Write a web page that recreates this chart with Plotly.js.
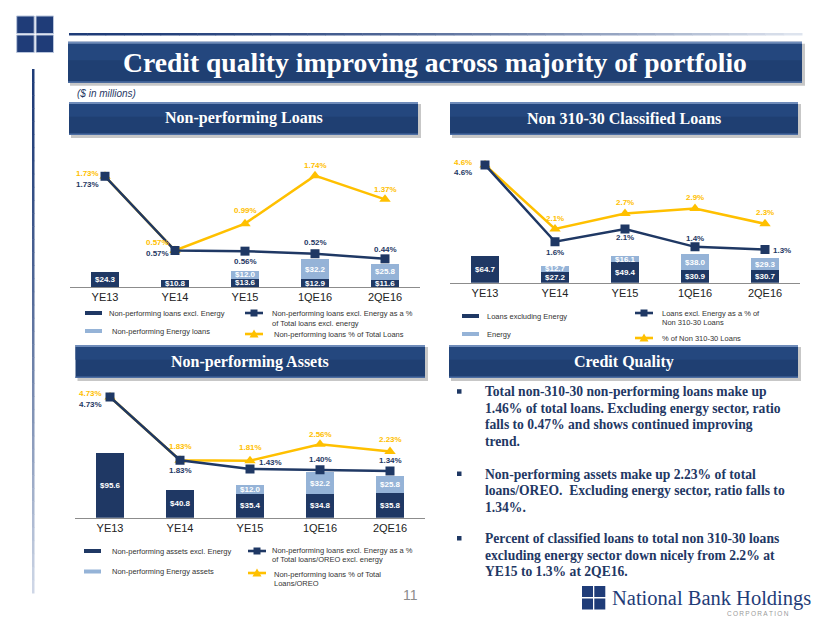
<!DOCTYPE html>
<html><head><meta charset="utf-8">
<script src="https://cdn.plot.ly/plotly-3.0.1.min.js"></script>
<style>html,body{margin:0;padding:0;background:#fff;}#c{width:830px;height:623px;}</style>
</head><body><div id="c"></div>
<script>
// ---------------- DATA ----------------
const categories = ['YE13','YE14','YE15','1QE16','2QE16'];

// Non-performing Loans ($ in millions, %)
const nplExEnergy    = [24.3, 10.8, 13.6, 12.9, 11.6];
const nplEnergy      = [null, null, 12.0, 32.2, 25.8];
const nplExEnergyPct = [1.73, 0.57, 0.56, 0.52, 0.44];
const nplTotalPct    = [1.73, 0.57, 0.99, 1.74, 1.37];

// Non 310-30 Classified Loans
const clsExEnergy    = [64.7, 27.2, 49.4, 30.9, 30.7];
const clsEnergy      = [null, 12.7, 16.1, 38.0, 29.3];
const clsExEnergyPct = [4.6, 1.6, 2.1, 1.4, 1.3];
const clsTotalPct    = [4.6, 2.1, 2.7, 2.9, 2.3];

// Non-performing Assets
const npaExEnergy    = [95.6, 40.8, 35.4, 34.8, 35.8];
const npaEnergy      = [null, null, 12.0, 32.2, 25.8];
const npaExEnergyPct = [4.73, 1.83, 1.43, 1.40, 1.34];
const npaTotalPct    = [4.73, 1.83, 1.81, 2.56, 2.23];

// ---------------- HELPERS ----------------
const W = 830, H = 623;
const X = v => v / W, Y = v => 1 - v / H;
const NAVY = '#1f3864', LIGHT = '#95b3d7', GOLD = '#ffc000', BOXC = '#1f3f72';
const SANS = 'Liberation Sans, Arial, sans-serif';
const SERIF = 'Liberation Serif, Times New Roman, serif';

const traces = [], annotations = [], shapes = [];

function rect(x0, y0, x1, y1, fill, lineColor, lw) {
  shapes.push({type:'rect', xref:'paper', yref:'paper', x0:X(x0), x1:X(x1), y0:Y(y1), y1:Y(y0),
    fillcolor:fill, line:{color:lineColor || fill, width: lw === undefined ? 0 : lw}, layer:'below'});
}
function txt(x, y, text, size, color, o) {
  o = o || {};
  annotations.push({xref:'paper', yref:'paper', x:X(x), y:Y(y), text:text, showarrow:false,
    xanchor:o.xa || 'left', yanchor:'middle', align:o.align || 'left',
    font:{family:o.family || SANS, size:size, color:color}});
}
function lerp(a, b, t) {
  const pa = [parseInt(a.slice(1,3),16), parseInt(a.slice(3,5),16), parseInt(a.slice(5,7),16)];
  const pb = [parseInt(b.slice(1,3),16), parseInt(b.slice(3,5),16), parseInt(b.slice(5,7),16)];
  return 'rgb(' + pa.map((v,i)=>Math.round(v + (pb[i]-v)*t)).join(',') + ')';
}
function box(x0, y0, x1, y1) {
  rect(x0+2, y0+2, x1+3, y1+3, 'rgba(0,0,0,0.22)');
  rect(x0, y0, x1, y1, BOXC);
  rect(x0, y0+2, x1, y0 + (y1-y0)*0.45, '#24477e');
  rect(x0, y0, x1, y0+2, '#6f8cba');
  rect(x0, y1-1.5, x1, y1, '#4d6ea3');
}

// ---------------- CHARTS ----------------
function addChart(xa, ya, ya2, exE, en, exPct, totPct, dec, offs) {
  traces.push({type:'bar', x:categories, y:exE, xaxis:xa, yaxis:ya, marker:{color:NAVY}, hoverinfo:'skip'});
  traces.push({type:'bar', x:categories, y:en, xaxis:xa, yaxis:ya, marker:{color:LIGHT}, hoverinfo:'skip'});
  traces.push({type:'scatter', mode:'lines+markers', x:categories, y:totPct, xaxis:xa, yaxis:ya2,
    line:{color:GOLD, width:2.5}, marker:{symbol:'triangle-up', size:10, color:GOLD}, hoverinfo:'skip'});
  traces.push({type:'scatter', mode:'lines+markers', x:categories, y:exPct, xaxis:xa, yaxis:ya2,
    line:{color:NAVY, width:2.5}, marker:{symbol:'square', size:9, color:NAVY}, hoverinfo:'skip'});
  categories.forEach((c, i) => {
    if (exE[i] != null) annotations.push({x:c, y:exE[i]/2, xref:xa, yref:ya, text:'<b>$' + exE[i].toFixed(1) + '</b>',
      showarrow:false, font:{family:SANS, size:8, color:'#ffffff'}});
    if (en[i] != null) annotations.push({x:c, y:exE[i] + en[i]/2, xref:xa, yref:ya, text:'<b>$' + en[i].toFixed(1) + '</b>',
      showarrow:false, font:{family:SANS, size:8, color:'#ffffff'}});
    annotations.push({x:c, y:totPct[i], xref:xa, yref:ya2, text:'<b>' + totPct[i].toFixed(dec) + '%</b>', showarrow:false,
      xshift:offs.gold[i][0], yshift:offs.gold[i][1], font:{family:SANS, size:8, color:GOLD}});
    annotations.push({x:c, y:exPct[i], xref:xa, yref:ya2, text:'<b>' + exPct[i].toFixed(dec) + '%</b>', showarrow:false,
      xshift:offs.navy[i][0], yshift:offs.navy[i][1], font:{family:SANS, size:8, color:NAVY}});
  });
}

addChart('x', 'y', 'y2', nplExEnergy, nplEnergy, nplExEnergyPct, nplTotalPct, 2,
  {gold:[[-18,3],[-18,8],[0,13],[0,10],[0,10]], navy:[[-18,-8],[-18,-3],[0,-10],[0,11],[0,9]]});
addChart('x2', 'y3', 'y4', clsExEnergy, clsEnergy, clsExEnergyPct, clsTotalPct, 1,
  {gold:[[-22,2],[0,10],[0,11],[0,11],[0,11]], navy:[[-22,-8],[0,-11],[0,-9],[0,8],[17,-1]]});
addChart('x3', 'y5', 'y6', npaExEnergy, npaEnergy, npaExEnergyPct, npaTotalPct, 2,
  {gold:[[-20,4],[0,14],[0,13],[0,10],[0,12]], navy:[[-20,-7],[0,-10],[20,7],[0,10],[0,10]]});

// ---------------- SLIDE DECORATION ----------------
// top-left logo
[[16.7,16],[36,16],[16.7,35],[36,35]].forEach(p => rect(p[0], p[1], p[0]+17.5, p[1]+17.5, '#1f3c78', '#b9c5dc', 1));
// gradient rules
const NSEG = 40;
for (let i = 0; i < NSEG; i++) {
  const a = 69 + (802-69)*i/NSEG, b = 69 + (802-69)*(i+1)/NSEG + 0.5;
  rect(a, 33, b, 35.5, lerp('#1f3c78', '#e6ebf3', Math.pow(i/NSEG, 1.6)));
}
for (let i = 0; i < NSEG; i++) {
  const a = 69 + (593-69)*i/NSEG, b = 69 + (593-69)*(i+1)/NSEG + 0.5;
  rect(32, a, 34.5, b, lerp('#1f3c78', '#d4dcea', Math.pow(i/NSEG, 1.4)));
}
// title box
box(68, 41.7, 802, 82.7);
txt(435, 62.5, '<b>Credit quality improving across majority of portfolio</b>', 27.6, '#ffffff', {xa:'center', family:SERIF});
txt(75, 93, '<i>($ in millions)</i>', 10, NAVY);
// section boxes
box(69, 102, 418, 135);
txt(243.5, 118.5, '<b>Non-performing Loans</b>', 16, '#ffffff', {xa:'center', family:SERIF});
box(450, 102, 798, 135);
txt(624, 118.5, '<b>Non 310-30 Classified Loans</b>', 16, '#ffffff', {xa:'center', family:SERIF});
box(75.5, 345, 425, 378);
txt(250, 361.5, '<b>Non-performing Assets</b>', 16, '#ffffff', {xa:'center', family:SERIF});
box(449, 345, 798, 378);
txt(624, 361.5, '<b>Credit Quality</b>', 16, '#ffffff', {xa:'center', family:SERIF});

// ---------------- LEGENDS ----------------
function legBar(x, y, color, label, tx) {
  rect(x, y-2, x+17, y+2, color);
  txt(tx, y, label, 7.5, '#333333');
}
function legLine(x, y, color, sym) {
  rect(x, y-1.3, x+18, y+1.3, color);
  const cx = x + 9;
  if (sym === 'square') rect(cx-3.5, y-3.5, cx+3.5, y+3.5, color);
  else shapes.push({type:'path', xref:'paper', yref:'paper', fillcolor:color, line:{width:0},
    path:`M ${X(cx-4.5)},${Y(y+3.5)} L ${X(cx+4.5)},${Y(y+3.5)} L ${X(cx)},${Y(y-4.5)} Z`});
}
// chart 1
legBar(85, 313, NAVY, 'Non-performing loans excl. Energy', 107);
legBar(85, 331, LIGHT, 'Non-performing Energy loans', 110);
legLine(245, 313, NAVY, 'square');
txt(270, 313, 'Non-performing loans excl. Energy as a %', 7.5, '#333333');
txt(270, 323, 'of Total loans excl. energy', 7.5, '#333333');
legLine(245, 334, GOLD, 'tri');
txt(272, 334, 'Non-performing loans % of Total Loans', 7.5, '#333333');
// chart 2
legBar(462, 316, NAVY, 'Loans excluding Energy', 485);
legBar(462, 334, LIGHT, 'Energy', 485);
legLine(635, 313, NAVY, 'square');
txt(660, 313, 'Loans excl. Energy as a % of', 7.5, '#333333');
txt(660, 322.5, 'Non 310-30 Loans', 7.5, '#333333');
legLine(635, 338, GOLD, 'tri');
txt(660, 338, '% of Non 310-30 Loans', 7.5, '#333333');
// chart 3
legBar(84, 551, NAVY, 'Non-performing assets excl. Energy', 110);
legBar(84, 571.5, LIGHT, 'Non-performing Energy assets', 110);
legLine(248, 551, NAVY, 'square');
txt(270, 550, 'Non-performing loans excl. Energy as a %', 7.5, '#333333');
txt(270, 559.5, 'of Total loans/OREO excl. energy', 7.5, '#333333');
legLine(248, 573, GOLD, 'tri');
txt(272, 574, 'Non-performing loans % of Total', 7.5, '#333333');
txt(272, 583.5, 'Loans/OREO', 7.5, '#333333');

// ---------------- BULLET TEXT ----------------
const bulletLines = [
  ['Total non-310-30 non-performing loans make up', 391.7, true],
  ['1.46% of total loans. Excluding energy sector, ratio', 408.2],
  ['falls to 0.47% and shows continued improving', 424.7],
  ['trend.', 441.2],
  ['Non-performing assets make up 2.23% of total', 474, true],
  ['loans/OREO.\u00a0 Excluding energy sector, ratio falls to', 490.5],
  ['1.34%.', 507],
  ['Percent of classified loans to total non 310-30 loans', 538.5, true],
  ['excluding energy sector down nicely from 2.2% at', 555],
  ['YE15 to 1.3% at 2QE16.', 571.5]
];
bulletLines.forEach(l => {
  txt(483, l[1], '<b>' + l[0] + '</b>', 13.6, NAVY, {family:SERIF});
  if (l[2]) rect(457, l[1]-2.5, 461.5, l[1]+2, NAVY);
});

// page number & bottom logo
txt(420, 595, '11', 14, '#8c8c8c', {xa:'right', family:'Liberation Sans, Arial, sans-serif'});
[[582,586],[594.3,586],[582,598.5],[594.3,598.5]].forEach(p => rect(p[0], p[1], p[0]+11, p[1]+11, '#1f3c78'));
txt(610, 598, 'National Bank Holdings', 20.5, '#1f3c78', {family:SERIF});
txt(791, 613, 'C\u2009O\u2009R\u2009P\u2009O\u2009R\u2009A\u2009T\u2009I\u2009O\u2009N', 6.5, '#9a9a9a', {xa:'right'});

// ---------------- LAYOUT ----------------
const xBase = {showline:true, linecolor:'#8c8c8c', linewidth:1, ticks:'', showgrid:false, zeroline:false,
  tickfont:{family:SANS, size:11, color:'#222222'}, fixedrange:true};
const hid = {visible:false, showgrid:false, zeroline:false, fixedrange:true};

const layout = {
  width:W, height:H, margin:{l:0, r:0, t:0, b:0}, paper_bgcolor:'#ffffff', plot_bgcolor:'rgba(0,0,0,0)',
  showlegend:false, barmode:'stack', bargap:0.6,
  xaxis:  Object.assign({}, xBase, {domain:[X(70), X(420)], anchor:'y'}),
  yaxis:  Object.assign({}, hid, {domain:[Y(287), Y(160)], range:[0, (287-160)/0.62]}),
  yaxis2: Object.assign({}, hid, {overlaying:'y', anchor:'x', range:[0, (287-160)/64]}),
  xaxis2: Object.assign({}, xBase, {domain:[X(450), X(800)], anchor:'y3'}),
  yaxis3: Object.assign({}, hid, {domain:[Y(282.7), Y(155)], range:[0, (282.7-155)/0.41]}),
  yaxis4: Object.assign({}, hid, {overlaying:'y3', anchor:'x2', range:[0, (282.7-155)/25.6]}),
  xaxis3: Object.assign({}, xBase, {domain:[X(75), X(425)], anchor:'y5'}),
  yaxis5: Object.assign({}, hid, {domain:[Y(517.7), Y(385)], range:[0, (517.7-385)/0.68]}),
  yaxis6: Object.assign({}, hid, {overlaying:'y5', anchor:'x3', range:[-0.80, 5.28]}),
  shapes:shapes, annotations:annotations
};

Plotly.newPlot('c', traces, layout, {staticPlot:true, displayModeBar:false});
</script>
</body></html>
